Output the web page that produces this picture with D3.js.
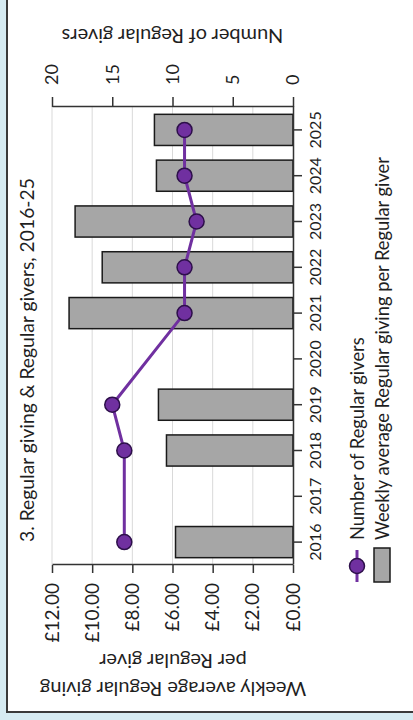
<!DOCTYPE html>
<html><head><meta charset="utf-8">
<script src="https://cdn.jsdelivr.net/npm/d3@7"></script>
<style>
body{margin:0;background:#fff}
svg{display:block}
text{font-family:Lato,"Open Sans",sans-serif;fill:#1f1f1f}
</style>
</head><body>
<svg id="c" width="413" height="720"></svg>
<script>
// ---- data ----
const years = ["2016","2017","2018","2019","2020","2021","2022","2023","2024","2025"];
const weeklyGiving = [5.85, null, 6.30, 6.70, null, 11.15, 9.50, 10.85, 6.80, 6.90];
const regularGivers = [14, null, 14, 15, null, 9, 9, 8, 9, 9];
const poundTicks = [0, 2, 4, 6, 8, 10, 12];
const giverTicks = [0, 5, 10, 15, 20];
const titleText = "3. Regular giving & Regular givers, 2016-25";
const leftAxisTitle = ["Weekly average Regular giving", "per Regular giver"];
const rightAxisTitle = "Number of Regular givers";
const legendLabels = ["Number of Regular givers", "Weekly average Regular giving per Regular giver"];

const purple = "#7030a0", purpleDark = "#2d0f4a";

const svg = d3.select("#c");
// frame (page coordinates)
svg.append("rect").attr("width",413).attr("height",720).attr("fill","#d6ebf2");
svg.append("rect").attr("x",7).attr("y",0).attr("width",406).attr("height",712).attr("fill","#fff");
svg.append("line").attr("x1",7).attr("x2",7).attr("y1",0).attr("y2",713).attr("stroke","#3a3a3a").attr("stroke-width",2);
svg.append("line").attr("x1",6).attr("x2",413).attr("y1",712).attr("y2",712).attr("stroke","#3a3a3a").attr("stroke-width",2);

// chart drawn in its natural orientation, then turned a quarter turn
const g = svg.append("g").attr("transform","translate(0,720) rotate(-90)");

const x = d3.scaleBand().domain(years).range([155, 613]).paddingInner(0.32).paddingOuter(0.16);
const yL = d3.scaleLinear().domain([0, 12]).range([293, 52]);
const yR = d3.scaleLinear().domain([0, 20]).range([293, 52]);

// gridlines
g.append("g").selectAll("line").data(poundTicks.filter(d=>d>0)).join("line")
  .attr("x1",155).attr("x2",613).attr("y1",d=>yL(d)).attr("y2",d=>yL(d))
  .attr("stroke","#d9d9d9").attr("stroke-width",1);

// bars
const barData = years.map((y,i)=>({year:y, v:weeklyGiving[i]})).filter(d=>d.v!=null);
g.append("g").selectAll("rect").data(barData).join("rect")
  .attr("x",d=>x(d.year)).attr("width",x.bandwidth())
  .attr("y",d=>yL(d.v)).attr("height",d=>yL(0)-yL(d.v))
  .attr("fill","#a6a6a6").attr("stroke","#1a1a1a").attr("stroke-width",1.5);

// axes
function styleAxis(sel, fs){
  sel.select(".domain").attr("stroke","#333").attr("stroke-width",1.5);
  sel.selectAll(".tick line").attr("stroke","#333").attr("stroke-width",1.5);
  sel.selectAll("text").attr("font-size",fs).attr("font-family",null).attr("fill","#1f1f1f");
}
g.append("g").attr("transform","translate(155,0)")
  .call(d3.axisLeft(yL).tickValues(poundTicks).tickFormat(d=>"£"+d.toFixed(2)).tickSize(8).tickSizeOuter(0).tickPadding(10))
  .call(s=>styleAxis(s,19));
g.append("g").attr("transform","translate(613,0)")
  .call(d3.axisRight(yR).tickValues(giverTicks).tickSize(10).tickSizeOuter(0).tickPadding(12))
  .call(s=>styleAxis(s,18));
g.append("g").attr("transform","translate(0,293)")
  .call(d3.axisBottom(x).tickSize(9).tickSizeOuter(0).tickPadding(8))
  .call(s=>styleAxis(s,16));

// line + markers
const lineData = years.map((y,i)=>({year:y, v:regularGivers[i]})).filter(d=>d.v!=null);
const line = d3.line().x(d=>x(d.year)+x.bandwidth()/2).y(d=>yR(d.v));
g.append("path").datum(lineData).attr("d",line).attr("fill","none")
  .attr("stroke",purple).attr("stroke-width",3);
g.append("g").selectAll("circle").data(lineData).join("circle")
  .attr("cx",d=>x(d.year)+x.bandwidth()/2).attr("cy",d=>yR(d.v)).attr("r",7.5)
  .attr("fill",purple).attr("stroke",purpleDark).attr("stroke-width",1.5);

// title
g.append("text").attr("x",178).attr("y",34).attr("font-size",19.3).text(titleText);

// axis titles
g.append("text").attr("transform","translate(683,172.5) rotate(-90)")
  .attr("text-anchor","middle").attr("dominant-baseline","central").attr("font-size",20).text(rightAxisTitle);
leftAxisTitle.forEach((t,i)=>{
  g.append("text").attr("transform",`translate(${30+i*28},173) rotate(-90)`)
    .attr("text-anchor","middle").attr("dominant-baseline","central").attr("font-size",20).text(t);
});

// legend
const lg = g.append("g");
lg.append("line").attr("x1",138).attr("x2",170).attr("y1",357).attr("y2",357).attr("stroke",purple).attr("stroke-width",3);
lg.append("circle").attr("cx",154).attr("cy",357).attr("r",7.5).attr("fill",purple).attr("stroke",purpleDark).attr("stroke-width",1.5);
lg.append("rect").attr("x",138).attr("y",374).attr("width",34).attr("height",16).attr("fill","#a6a6a6").attr("stroke","#1a1a1a").attr("stroke-width",1.5);
legendLabels.forEach((t,i)=>{
  lg.append("text").attr("x",180).attr("y",357+i*25).attr("dominant-baseline","central").attr("font-size",18.3).text(t);
});
</script>
</body></html>
